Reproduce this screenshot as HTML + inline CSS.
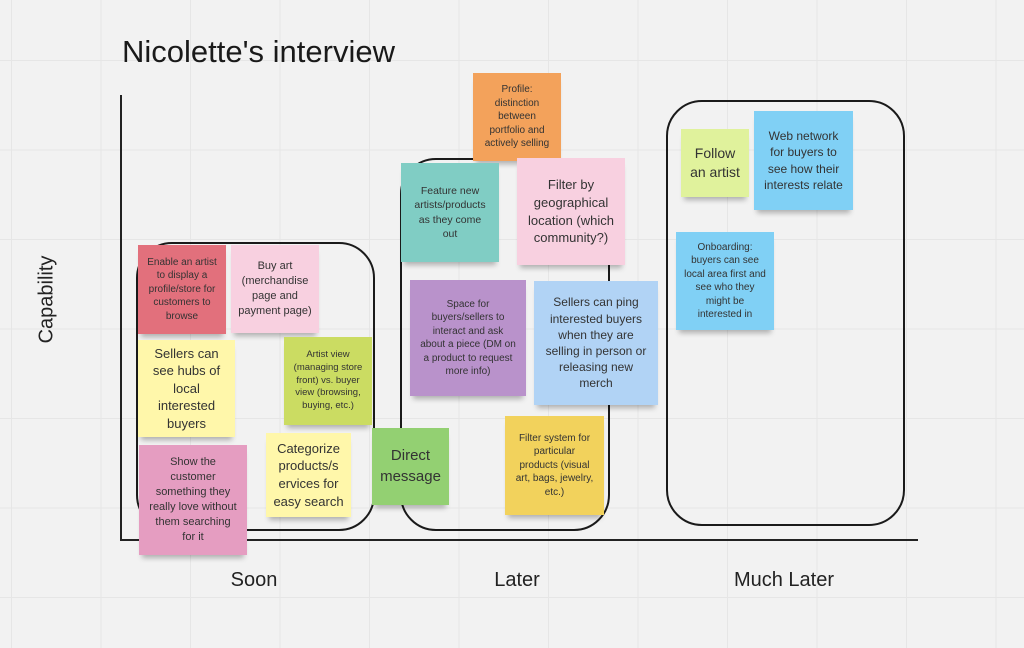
<!DOCTYPE html>
<html><head><meta charset="utf-8"><style>
body{margin:0;width:1024px;height:648px;overflow:hidden;background:#f2f2f2;font-family:"Liberation Sans",sans-serif;position:relative;
background-image:linear-gradient(#e6e6e6 1px,transparent 1px),linear-gradient(90deg,#e6e6e6 1px,transparent 1px);background-size:89.5px 89.5px;background-position:11px 60px;}
.a{position:absolute}
.box{position:absolute;border:2.5px solid #1a1a1a;border-radius:36px;box-sizing:border-box}
.n{position:absolute;box-sizing:border-box;display:flex;align-items:center;justify-content:center;text-align:center;color:#333;line-height:1.35;padding:3px 9px;box-shadow:0 6px 5px -3px rgba(0,0,0,.28)}
</style></head><body>
<div class="a" style="left:122px;top:34px;font-size:31px;color:#1a1a1a">Nicolette's interview</div>
<div class="a" style="left:120px;top:95px;width:2px;height:446px;background:#222"></div>
<div class="a" style="left:120px;top:539px;width:798px;height:2px;background:#222"></div>
<div class="a" style="left:-3px;top:288px;width:100px;text-align:center;font-size:20px;color:#222;transform:rotate(-90deg)">Capability</div>
<div class="a" style="left:204px;top:569px;width:100px;text-align:center;font-size:20px;color:#222">Soon</div>
<div class="a" style="left:467px;top:569px;width:100px;text-align:center;font-size:20px;color:#222">Later</div>
<div class="a" style="left:714px;top:569px;width:140px;text-align:center;font-size:20px;color:#222">Much Later</div>
<div class="box" style="left:136px;top:242px;width:239px;height:289px"></div>
<div class="box" style="left:400px;top:158px;width:210px;height:373px"></div>
<div class="box" style="left:666px;top:100px;width:239px;height:426px"></div>

<div class="n" style="left:138px;top:245px;width:88px;height:89px;background:#e2707c;font-size:10px;padding:3px 6px">Enable an artist to display a profile/store for customers to browse</div>
<div class="n" style="left:231px;top:245px;width:88px;height:88px;background:#f8d0e0;font-size:11px;padding:3px 6px">Buy art (merchandise page and payment page)</div>
<div class="n" style="left:138px;top:340px;width:97px;height:97px;background:#fff7aa;font-size:13px;padding:3px 8px">Sellers can see hubs of local interested buyers</div>
<div class="n" style="left:284px;top:337px;width:88px;height:88px;background:#cbdc62;font-size:9.5px;padding:3px 8px">Artist view (managing store front) vs. buyer view (browsing, buying, etc.)</div>
<div class="n" style="left:139px;top:445px;width:108px;height:110px;background:#e59dc1;font-size:11px;padding:3px 10px">Show the customer something they really love without them searching for it</div>
<div class="n" style="left:266px;top:433px;width:85px;height:84px;background:#fff7aa;font-size:13px;padding:3px 5px">Categorize products/s ervices for easy search</div>
<div class="n" style="left:372px;top:428px;width:77px;height:77px;background:#93d072;font-size:15px">Direct message</div>
<div class="n" style="left:473px;top:73px;width:88px;height:88px;background:#f3a25b;font-size:10px;padding:3px 8px">Profile: distinction between portfolio and actively selling</div>
<div class="n" style="left:401px;top:163px;width:98px;height:99px;background:#80cdc4;font-size:10.5px;padding:3px 10px">Feature new artists/products as they come out</div>
<div class="n" style="left:517px;top:158px;width:108px;height:107px;background:#f8d0e0;font-size:13px;padding:3px 10px">Filter by geographical location (which community?)</div>
<div class="n" style="left:410px;top:280px;width:116px;height:116px;background:#b992cb;font-size:10px;padding:3px 10px">Space for buyers/sellers to interact and ask about a piece (DM on a product to request more info)</div>
<div class="n" style="left:534px;top:281px;width:124px;height:124px;background:#b1d3f5;font-size:12px;padding:3px 10px">Sellers can ping interested buyers when they are selling in person or releasing new merch</div>
<div class="n" style="left:505px;top:416px;width:99px;height:99px;background:#f2d25c;font-size:10px;padding:3px 9px">Filter system for particular products (visual art, bags, jewelry, etc.)</div>
<div class="n" style="left:681px;top:129px;width:68px;height:68px;background:#e0f29c;font-size:14px;padding:3px 6px">Follow an artist</div>
<div class="n" style="left:754px;top:111px;width:99px;height:99px;background:#80d0f5;font-size:12px;padding:3px 8px">Web network for buyers to see how their interests relate</div>
<div class="n" style="left:676px;top:232px;width:98px;height:98px;background:#80d0f5;font-size:10px;padding:3px 8px">Onboarding: buyers can see local area first and see who they might be interested in</div>
</body></html>
